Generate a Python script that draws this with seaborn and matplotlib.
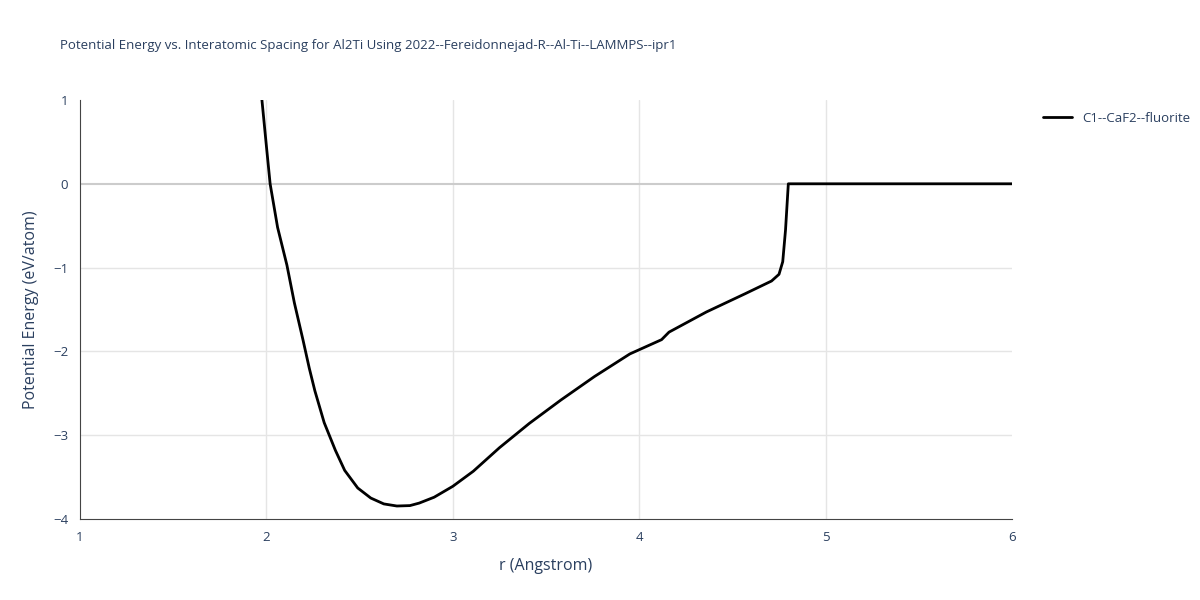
import matplotlib
matplotlib.use("Agg")
from matplotlib import pyplot as plt
import seaborn as sns
import numpy as np
import pandas as pd

r = [1.976, 2.0, 2.02, 2.06, 2.11, 2.15, 2.196, 2.23, 2.26, 2.31, 2.37, 2.42, 2.49, 2.56, 2.63, 2.70,
     2.77, 2.82, 2.90, 3.00, 3.11, 3.25, 3.41, 3.58, 3.76, 3.95, 4.12, 4.16,
     4.36, 4.57, 4.71, 4.75, 4.77, 4.785, 4.80, 5.2, 6.0]
energy = [1.0, 0.45, 0.0, -0.52, -0.97, -1.42, -1.86, -2.20, -2.47, -2.85, -3.18, -3.42, -3.63, -3.75, -3.82, -3.845,
          -3.84, -3.81, -3.74, -3.61, -3.43, -3.15, -2.86, -2.58, -2.30, -2.03, -1.86, -1.77,
          -1.53, -1.31, -1.16, -1.08, -0.93, -0.55, 0.0, 0.0, 0.0]
series_name = "C1--CaF2--fluorite"

df = pd.DataFrame({"r": r, "E": energy, "s": series_name})

sns.set_style("white")
plt.rcParams["font.family"] = ["Open Sans", "DejaVu Sans"]
fig = plt.figure(figsize=(12, 6), dpi=100)
ax = fig.add_axes([80 / 1200, 81 / 600, 932 / 1200, 419 / 600])

txt = "#2a3f5f"
for v in [2, 3, 4, 5]:
    ax.axvline(v, color="#e5e5e5", lw=1, zorder=0)
for v in [-3, -2, -1]:
    ax.axhline(v, color="#e5e5e5", lw=1, zorder=0)
ax.axhline(0, color="#cccccc", lw=1.5, zorder=0)

sns.lineplot(data=df, x="r", y="E", hue="s", palette=["black"], lw=2, ax=ax, sort=False)

ax.set_xlim(1, 6)
ax.set_ylim(-4, 1)
ax.set_xticks([1, 2, 3, 4, 5, 6])
ax.set_xticks(np.arange(1, 6.01, 0.2), minor=True)
ax.set_yticks([-4, -3, -2, -1, 0, 1])
ax.set_yticklabels(["\u22124", "\u22123", "\u22122", "\u22121", "0", "1"])
ax.tick_params(axis="both", colors="#444444", labelcolor=txt, labelsize=9.5, length=5, direction="out")
ax.tick_params(axis="x", which="minor", length=3, colors="#444444")
for s in ["top", "right"]:
    ax.spines[s].set_visible(False)
for s in ["left", "bottom"]:
    ax.spines[s].set_color("#444444")
ax.set_xlabel("r (Angstrom)", color=txt, fontsize=11.5, labelpad=10)
ax.set_ylabel("Potential Energy (eV/atom)", color=txt, fontsize=11.5, labelpad=10)
fig.text(60 / 1200, 1 - 46 / 600, "Potential Energy vs. Interatomic Spacing for Al2Ti Using 2022--Fereidonnejad-R--Al-Ti--LAMMPS--ipr1",
         color=txt, fontsize=9.5, va="center")
ax.legend(loc="upper left", bbox_to_anchor=(1.02, 1.0), frameon=False, fontsize=9.5,
          labelcolor=txt, handlelength=2.2)
fig.savefig("out.png", dpi=100)
